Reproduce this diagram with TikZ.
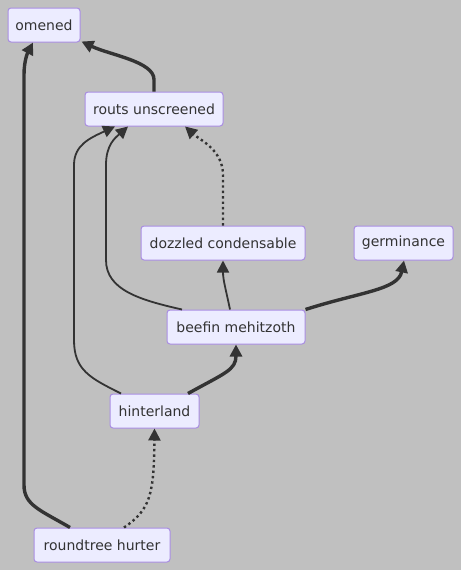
\documentclass[tikz,border=0pt]{standalone}
\usepackage{fontspec}
\setmainfont{DejaVu Sans}
\definecolor{canvas}{HTML}{C0C0C0}
\definecolor{nodefill}{HTML}{ECECFF}
\definecolor{nodeline}{HTML}{9370DB}
\definecolor{ink}{HTML}{333333}
\usetikzlibrary{arrows.meta, positioning, calc}

\begin{document}
\begin{tikzpicture}[
  x=1pt, y=-1pt,
  box/.style={rectangle, draw=nodeline!80, fill=nodefill, line width=1pt,
    minimum height=34pt, inner xsep=0pt, align=center, text=ink,
    font=\fontsize{14pt}{16pt}\selectfont, rounded corners=3pt},
  link/.style={draw=ink, line width=1.8pt, -{Triangle[length=12pt,width=12pt]}},
  heavy/.style={link, line width=3.4pt},
  dots/.style={link, line width=2.4pt, dash pattern=on 2.4pt off 3pt},
]
  \fill[canvas] (0,0) rectangle (461,570);
  \useasboundingbox (0,0) rectangle (461,570);

  % Nodes
  \node[box, minimum width=72pt] (omened) at (44,25) {omened};
  \node[box, minimum width=138pt] (routs) at (154,109) {routs unscreened};
  \node[box, minimum width=164pt] (dozzled) at (223,243) {dozzled condensable};
  \node[box, minimum width=99pt] (germ) at (403.5,243) {germinance};
  \node[box, minimum width=138pt] (beefin) at (236,327) {beefin mehitzoth};
  \node[box, minimum width=89pt] (hinter) at (154.5,411) {hinterland};
  \node[box, minimum width=136pt] (round) at (102,545) {roundtree hurter};

  % Links to omened
  \draw[heavy] (routs.north) -- ++(0,-12) .. controls ++(0,-18) and (110,55) .. ([xshift=1pt,yshift=1pt]omened.south east);
  \draw[heavy] ([xshift=-32pt]round.north) .. controls (40,510) and (24,505) .. (24,485)
    -- (24,75) .. controls (24,60) and (28,52) .. ([xshift=-11pt]omened.south);

  % Links to routs unscreened
  \draw[dots] (dozzled.north) -- (223,175) .. controls (223,150) and (200,140) .. ([xshift=31pt]routs.south);
  \draw[link] ([xshift=-54pt]beefin.north) .. controls (140,300) and (106,290) .. (106,260)
    -- (106,165) .. controls (106,145) and (115,138) .. ([xshift=-26pt]routs.south);
  \draw[link] ([xshift=-33.5pt]hinter.north) .. controls (90,378) and (74,370) .. (74,340)
    -- (74,165) .. controls (74,145) and (90,138) .. ([xshift=-39pt]routs.south);

  % Links from beefin mehitzoth
  \draw[link] ([xshift=-6pt]beefin.north) .. controls (226,290) and (223,280) .. (dozzled.south);
  \draw[heavy] (beefin.north east) .. controls (360,292) and (398,290) .. ([xshift=0.5pt]germ.south);

  % Links into hinterland and beefin mehitzoth
  \draw[heavy] ([xshift=33.5pt]hinter.north) .. controls (225,373) and (236,370) .. (beefin.south);
  \draw[dots] ([xshift=22pt]round.north) .. controls (150,510) and (154,495) .. (hinter.south);
\end{tikzpicture}
\end{document}
